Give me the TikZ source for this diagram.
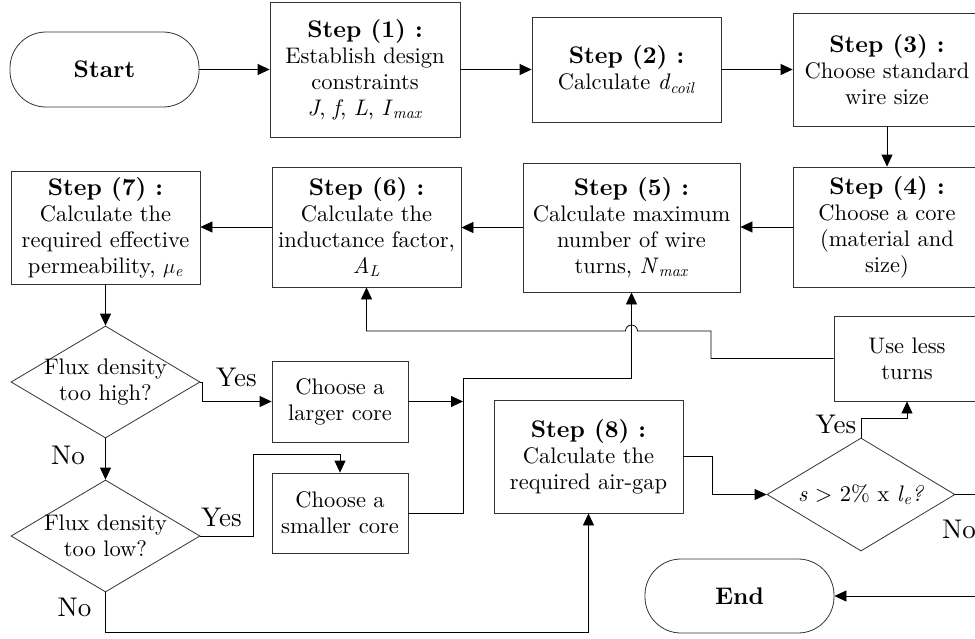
\documentclass[tikz,border=0pt]{standalone}
\usepackage{fontspec}
\setmainfont{lmroman10-regular.otf}[
  BoldFont=lmroman10-bold.otf,
  ItalicFont=lmroman10-italic.otf,
  BoldItalicFont=lmroman10-bolditalic.otf]
\usetikzlibrary{arrows.meta,shapes.geometric,calc}
\newcommand{\lowidx}[1]{\textsubscript{\textit{#1}}}
\newcommand{\bodyfont}{\fontsize{22.5}{26}\selectfont}
\newcommand{\stepfont}{\fontsize{24}{26}\selectfont\bfseries}
\newcommand{\ynfont}{\fontsize{27}{30}\selectfont}
\begin{document}
\begin{tikzpicture}[x=1pt,y=-1pt,
  box/.style={draw=black!80, line width=0.8pt, inner sep=0pt, align=center, font=\bodyfont},
  term/.style={box, rounded corners=36pt, font=\stepfont},
  dia/.style={draw=black!80, line width=0.8pt, diamond, inner sep=0pt,
              minimum width=189pt, minimum height=112pt},
  dlabel/.style={align=center, font=\bodyfont, inner sep=0pt},
  yn/.style={font=\ynfont, inner sep=0pt},
  flow/.style={draw=black, line width=0.8pt, -{Triangle[length=12pt,width=11pt]}},
]
\path[use as bounding box] (0,0) rectangle (975,638);
\clip (0,0) rectangle (975,638);

% terminals
\node[term, minimum width=189pt, minimum height=75pt] (start) at (104.5,69.5) {Start};
\node[term, minimum width=189pt, minimum height=74pt] (end) at (739.5,596) {End};

% process steps
\node[box, minimum width=190pt, minimum height=135pt] (s1) at (365,69.5)
  {{\stepfont Step (1) :}\\Establish design\\constraints\\\textit{J}, \textit{f}, \textit{L}, \textit{I}\lowidx{max}};
\node[box, minimum width=189pt, minimum height=105pt] (s2) at (626.5,69.5)
  {{\stepfont Step (2) :}\\Calculate \textit{d}\lowidx{coil}};
\node[box, minimum width=188pt, minimum height=113pt] (s3) at (887,69.5)
  {{\stepfont Step (3) :}\\Choose standard\\wire size};
\node[box, minimum width=188pt, minimum height=120pt] (s4) at (887,227)
  {{\stepfont Step (4) :}\\Choose a core\\(material and\\size)};
\node[box, minimum width=217pt, minimum height=129pt] (s5) at (631.5,227.5)
  {{\stepfont Step (5) :}\\Calculate maximum\\number of wire\\turns, \textit{N}\lowidx{max}};
\node[box, minimum width=189pt, minimum height=120pt] (s6) at (366.5,227)
  {{\stepfont Step (6) :}\\Calculate the\\inductance factor,\\\textit{A}\lowidx{L}};
\node[box, minimum width=189pt, minimum height=113pt] (s7) at (105.5,227.5)
  {{\stepfont Step (7) :}\\Calculate the\\required effective\\permeability, $\mu$\lowidx{e}};
\node[box, minimum width=136pt, minimum height=81pt] (large) at (340,401.5)
  {Choose a\\larger core};
\node[box, minimum width=136pt, minimum height=80pt] (small) at (340,513)
  {Choose a\\smaller core};
\node[box, minimum width=189pt, minimum height=113pt] (s8) at (588.5,456.5)
  {{\stepfont Step (8) :}\\Calculate the\\required air-gap};
\node[box, minimum width=146pt, minimum height=85pt] (less) at (907,358.5)
  {Use less\\turns};

% decisions
\node[dia] (d1) at (105.5,382) {};
\node[dlabel] (d1t) at (d1.center) {Flux density\\too high?};
\node[dia] (d2) at (105.5,536) {};
\node[dlabel] (d2t) at (d2.center) {Flux density\\too low?};
\node[dia, minimum width=188pt, minimum height=113pt] (d3) at (861,494.5) {};
\node[dlabel] (d3t) at (d3.center)
  {\textit{s} > 2\% x \textit{l}\lowidx{e}\textit{?}};

% branch labels
\node[yn] (y1) at (236.5,377.5) {Yes};
\node[yn] (n1) at (68,455.5) {No};
\node[yn] (y2) at (221.5,517.5) {Yes};
\node[yn] (n2) at (74.5,607.5) {No};
\node[yn] (y3) at (836,424) {Yes};
\node[yn, anchor=west] (n3) at (942,529) {No};

% main sequence
\draw[flow] (start.east) -- (s1.west);
\draw[flow] (s1.east) -- (s2.west);
\draw[flow] (s2.east) -- (s3.west);
\draw[flow] (s3.south) -- (s4.north);
\draw[flow] (s4.west) -- (s4.west -| s5.east);
\draw[flow] (s5.west) -- (s5.west -| s6.east);
\draw[flow] (s6.west) -- (s6.west -| s7.east);
\draw[flow] (s7.south) -- (d1.north);

% flux density checks
\draw[flow] (d1.east) -- ++(2,0) |- (large.west);
\draw[flow] (d1.south) -- (d2.north);
\coordinate (mj) at (463,378);
\draw[flow] (large.east) -- (large.east -| mj);
\draw[flow] (small.east) -| (mj) -| (s5.south);
\coordinate (ys) at (253,454);
\draw[flow] (d2.east) -| (ys) -| (small.north);
\coordinate (bl) at (0,632);
\draw[flow] (d2.south) -- (d2.south |- bl) -| (s8.south);

% air gap check
\draw[flow] (s8.east) -- ++(29,0) |- (d3.west);
\draw[flow] (d3.north) -- ++(0,-19) -| (less.south);
\coordinate (lk) at (711,331);
\draw[flow] (less.west) -| (lk) -- ($(s5.south |- lk)+(6,0)$)
  arc[start angle=0, end angle=180, radius=6pt] -- (lk -| s6.south) -- (s6.south);
\draw[flow] (d3.east) -- ++(35,0) |- (end.east);
\end{tikzpicture}
\end{document}
